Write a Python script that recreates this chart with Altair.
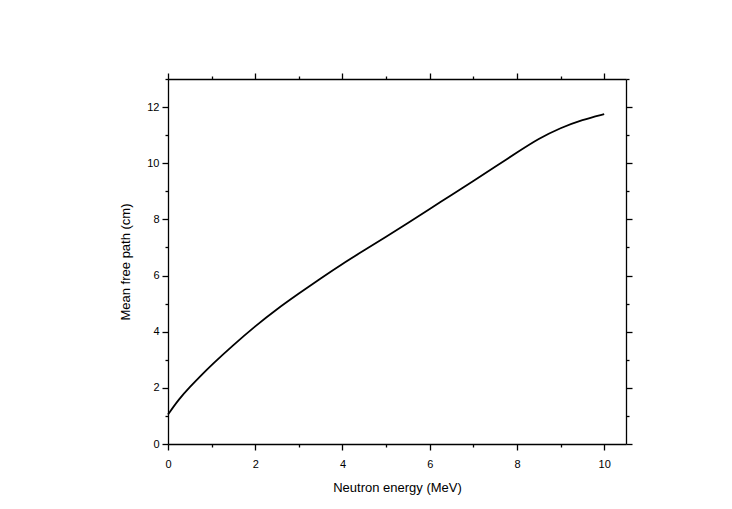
import altair as alt
import pandas as pd

energy = [0.0, 0.25, 0.5, 0.75, 1.0, 1.5, 2.0, 2.5, 3.0, 3.5, 4.0, 4.5, 5.0, 5.5, 6.0, 6.5, 7.0, 7.5, 8.0, 8.5, 9.0, 9.5, 10.0]
mfp = [1.05, 1.60, 2.03, 2.43, 2.82, 3.53, 4.20, 4.81, 5.36, 5.90, 6.42, 6.90, 7.38, 7.87, 8.37, 8.87, 9.37, 9.87, 10.38, 10.88, 11.26, 11.55, 11.75]
x_ticks = list(range(0, 11))
y_ticks = list(range(0, 14))

df = pd.DataFrame({"E": energy, "L": mfp})

FONT = "Liberation Sans"
tick_cond = {"condition": {"test": "datum.value % 2 == 0", "value": 6}, "value": 3}
label_expr = "datum.value % 2 == 0 ? datum.label : ''"

xscale = alt.Scale(domain=[0, 10.5], nice=False, zero=False)
yscale = alt.Scale(domain=[0, 13], nice=False, zero=False)

common = dict(grid=False, domainColor="black", tickColor="black", domainWidth=1.3,
              tickWidth=1.3, tickSize=tick_cond, labelFont=FONT, labelFontSize=11,
              labelColor="black", labelFlush=False, titleFont=FONT, titleFontSize=13,
              titleFontWeight="normal", titleColor="black")

line = alt.Chart(df).mark_line(color="black", strokeWidth=1.8, interpolate="basis").encode(
    x=alt.X("E:Q", scale=xscale,
            axis=alt.Axis(title="Neutron energy (MeV)", values=x_ticks, labelExpr=label_expr,
                          labelPadding=8, titlePadding=12, **common)),
    y=alt.Y("L:Q", scale=yscale,
            axis=alt.Axis(title="Mean free path (cm)", values=y_ticks, labelExpr=label_expr,
                          labelPadding=3, titlePadding=14, **common)),
)

frame = alt.Chart(df).mark_line(opacity=0).encode(
    x=alt.X("E:Q", scale=xscale,
            axis=alt.Axis(orient="top", title=None, values=x_ticks, labels=False, **common)),
    y=alt.Y("L:Q", scale=yscale,
            axis=alt.Axis(orient="right", title=None, values=y_ticks, labels=False, **common)),
)

chart = alt.layer(line, frame).resolve_axis(x="independent", y="independent").properties(
    width=458, height=365,
    autosize=alt.AutoSizeParams(type="none"),
    padding={"left": 168, "top": 79, "right": 106, "bottom": 65},
    background="white",
).configure_view(stroke=None)

chart.save("out.html", embed_options={"renderer": "svg", "actions": False})
